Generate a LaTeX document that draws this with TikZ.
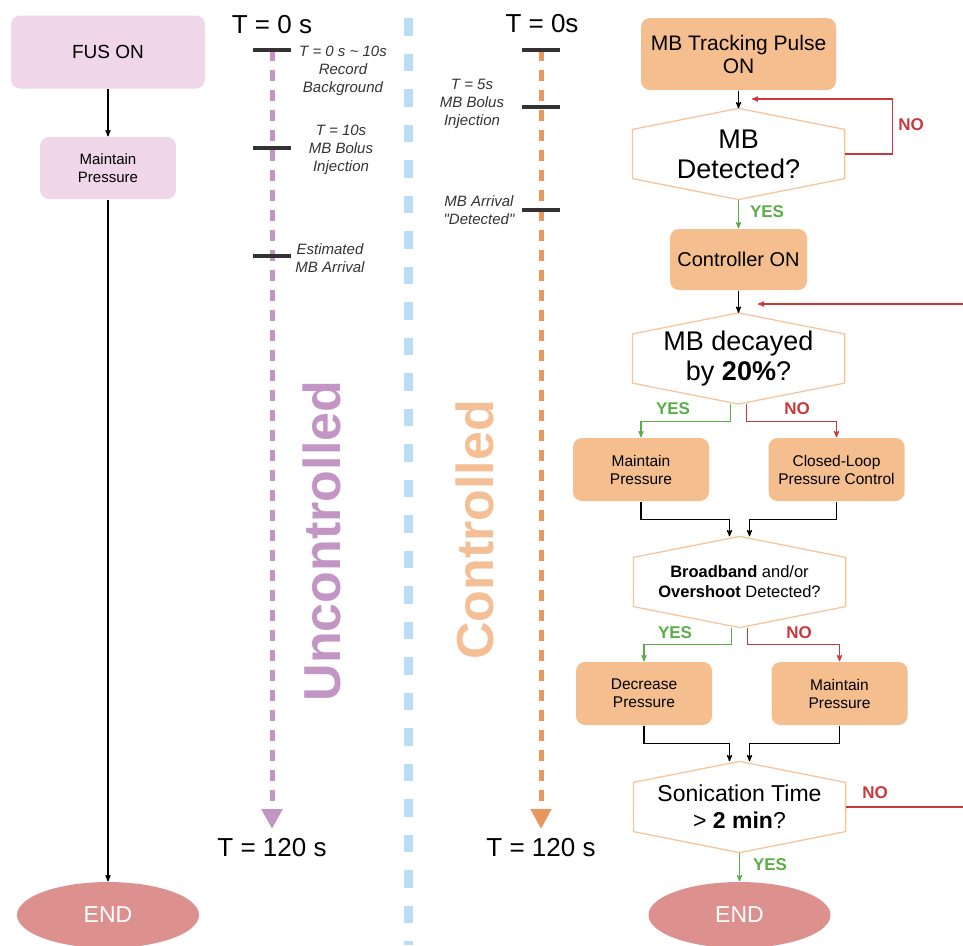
\documentclass[tikz,border=0pt]{standalone}
\usepackage{fontspec}
\setmainfont{Liberation Sans}
\usepackage{tikz}
\usetikzlibrary{arrows, arrows.meta, positioning, shapes.geometric}

\definecolor{fuspink}{HTML}{EFD6E8}
\definecolor{peach}{HTML}{F5BE8F}
\definecolor{hexline}{HTML}{F6C49A}
\definecolor{yesgreen}{HTML}{5AAE48}
\definecolor{nored}{HTML}{C9383A}
\definecolor{endred}{HTML}{DC918F}
\definecolor{ucpurple}{HTML}{C295C5}
\definecolor{ctrlorange}{HTML}{F5BF96}
\definecolor{dashorange}{HTML}{E8975E}
\definecolor{divblue}{HTML}{BADCF4}
\definecolor{tickgray}{HTML}{333333}

\begin{document}
\begin{tikzpicture}[x=1pt, y=-1pt, >=stealth', line width=1.2pt,
    pinkbox/.style ={rectangle, fill=fuspink, rounded corners=9pt, align=center, text centered},
    orangebox/.style ={rectangle, fill=peach, rounded corners=9pt, align=center, text centered,
      minimum width=136pt, minimum height=63pt, font=\fontsize{15.5}{18}\selectfont},
    decision/.style ={align=center, minimum width=211pt, minimum height=90pt, inner sep=0pt},
    endnode/.style ={ellipse, fill=endred, text=white, minimum width=182pt, minimum height=66pt,
      font=\fontsize{23}{26}\selectfont},
    timefont/.style ={font=\fontsize{26}{30}\selectfont},
    timelabel/.style ={align=center, text=tickgray, font=\fontsize{15}{18}\selectfont\itshape},
    tickbar/.style ={draw=tickgray, line width=4pt},
    yespath/.style ={->, draw=yesgreen},
    nopath/.style ={->, draw=nored},
    yeslabel/.style ={text=yesgreen, font=\fontsize{17}{20}\selectfont\bfseries},
    nolabel/.style ={text=nored, font=\fontsize{17}{20}\selectfont\bfseries}]
    \useasboundingbox (0,0) rectangle (963,945);

    % uncontrolled flow
    \node[pinkbox, minimum width=194pt, minimum height=73pt, font=\fontsize{19}{22}\selectfont] (fus) at (108,52) {FUS ON};
    \node[pinkbox, minimum width=136pt, minimum height=62pt, font=\fontsize{15}{18}\selectfont] (keep) at (108,168) {Maintain\\Pressure};
    \node[endnode] (endL) at (108,915) {END};
    \draw[->] (fus) -- (keep);
    \draw[->] (keep) -- (endL);

    % uncontrolled timeline
    \node[timefont] (t0L) at (272,25) {T = 0 s};
    \coordinate (uc0) at (272,50);
    \coordinate (uc1) at (272,148);
    \coordinate (uc2) at (272,256);
    \coordinate (ucend) at (272,829);
    \draw[draw=ucpurple, line width=5pt, dash pattern=on 11pt off 9pt,
          -{Triangle[length=20pt, width=20pt]}] (uc0) -- (ucend);
    \draw[tickbar] ([xshift=-19pt]uc0) -- ([xshift=19pt]uc0);
    \draw[tickbar] ([xshift=-19pt]uc1) -- ([xshift=19pt]uc1);
    \draw[tickbar] ([xshift=-19pt]uc2) -- ([xshift=19pt]uc2);
    \node[timelabel] (lblrec) at (343,71) {T = 0 s \textasciitilde{} 10s\\Record\\Background};
    \node[timelabel] (lblbolus) at (341,150) {T = 10s\\MB Bolus\\Injection};
    \node[timelabel] (lblest) at (330,258) {Estimated\\MB Arrival};
    \node[timefont, below=5pt of ucend] (t120L) {T = 120 s};
    \node[rotate=90, text=ucpurple, font=\fontsize{52}{56}\selectfont\bfseries] (uclabel) at (322,541) {Uncontrolled};

    % divider
    \coordinate (divtop) at (408,18);
    \coordinate (divbot) at (408,945);
    \draw[draw=divblue, line width=9pt, dash pattern=on 17.5pt off 18pt] (divtop) -- (divbot);

    % controlled timeline
    \node[timefont] (t0R) at (542,24) {T = 0s};
    \coordinate (ct0) at (541,50);
    \coordinate (ct1) at (541,107);
    \coordinate (ct2) at (541,210);
    \coordinate (ctend) at (541,829);
    \draw[draw=dashorange, line width=5pt, dash pattern=on 11pt off 9pt,
          -{Triangle[length=20pt, width=20pt]}] (ct0) -- (ctend);
    \draw[tickbar] ([xshift=-19pt]ct0) -- ([xshift=19pt]ct0);
    \draw[tickbar] ([xshift=-19pt]ct1) -- ([xshift=19pt]ct1);
    \draw[tickbar] ([xshift=-19pt]ct2) -- ([xshift=19pt]ct2);
    \node[timelabel] (lblbolus2) at (472,104) {T = 5s\\MB Bolus\\Injection};
    \node[timelabel] (lbldet) at (479,210) {MB Arrival\\\textquotedbl Detected\textquotedbl};
    \node[timefont, below=5pt of ctend] (t120R) {T = 120 s};
    \node[rotate=90, text=ctrlorange, font=\fontsize{52}{56}\selectfont\bfseries] (ctlabel) at (475,530) {Controlled};

    % controlled flow
    \node[orangebox, minimum width=195pt, minimum height=72pt, font=\fontsize{21}{23}\selectfont] (pulse) at (738.5,54) {MB Tracking Pulse\\ON};
    \node[decision, font=\fontsize{27}{30}\selectfont] (detect) at (738.5,154) {MB\\Detected?};
    \node[orangebox, minimum width=137pt, minimum height=61pt, font=\fontsize{20}{23}\selectfont] (ctrl) at (738.5,259.5) {Controller ON};
    \node[decision, font=\fontsize{27}{30}\selectfont] (decay) at (738.5,358.5) {MB decayed\\by \textbf{20\%}?};
    \node[orangebox] (keepA) at (641,469.5) {Maintain\\Pressure};
    \node[orangebox] (loop) at (836.5,469.5) {Closed-Loop\\Pressure Control};
    \node[decision, font=\fontsize{16.5}{20}\selectfont] (broad) at (739.5,582) {\textbf{Broadband} and/or\\\textbf{Overshoot} Detected?};
    \node[orangebox] (lower) at (644,693.5) {Decrease\\Pressure};
    \node[orangebox] (keepB) at (839.5,693.5) {Maintain\\Pressure};
    \node[decision, font=\fontsize{23}{27}\selectfont] (sonic) at (739.5,807) {Sonication Time\\> \textbf{2 min}?};
    \node[endnode] (endR) at (739.5,915) {END};
    \foreach \n in {detect, decay, broad, sonic}
      \draw[draw=hexline, line width=1.3pt] (\n.north) -- ([yshift=-21pt]\n.north east) -- ([yshift=21pt]\n.south east)
        -- (\n.south) -- ([yshift=21pt]\n.south west) -- ([yshift=-21pt]\n.north west) -- cycle;

    \coordinate (loopin) at (752,99);
    \coordinate (backin) at (758,304);
    \coordinate (backedge) at (963,304);
    \coordinate (sonicedge) at (963,807);

    \draw[->] (pulse) -- (detect);
    \draw[nopath] (detect.east) -- ++(48,0) |- (loopin);
    \draw[yespath] (detect) -- (ctrl);
    \draw[->] (ctrl) -- (decay);
    \draw[nopath] (backedge) -- (backin);
    \draw[yespath] ([xshift=-8pt]decay.south) -- ++(0,17) -| (keepA);
    \draw[nopath] ([xshift=8pt]decay.south) -- ++(0,17) -| (loop);
    \draw[->] (keepA.south) -- ++(0,18) -| ([xshift=-10pt]broad.north);
    \draw[->] (loop.south) -- ++(0,18) -| ([xshift=10pt]broad.north);
    \draw[yespath] ([xshift=-8pt]broad.south) -- ++(0,17) -| (lower);
    \draw[nopath] ([xshift=8pt]broad.south) -- ++(0,17) -| (keepB);
    \draw[->] (lower.south) -- ++(0,18) -| ([xshift=-10pt]sonic.north);
    \draw[->] (keepB.south) -- ++(0,18) -| ([xshift=10pt]sonic.north);
    \draw[draw=nored] (sonic.east) -- (sonicedge);
    \draw[yespath] (sonic) -- (endR);

    \node[nolabel] (no1) at (911,125) {NO};
    \node[yeslabel] (yes1) at (767,212) {YES};
    \node[yeslabel] (yes2) at (673,409) {YES};
    \node[nolabel] (no2) at (797,409) {NO};
    \node[yeslabel] (yes3) at (675,633) {YES};
    \node[nolabel] (no3) at (799,633) {NO};
    \node[nolabel] (no4) at (875,793) {NO};
    \node[yeslabel] (yes4) at (770,865) {YES};
\end{tikzpicture}
\end{document}
